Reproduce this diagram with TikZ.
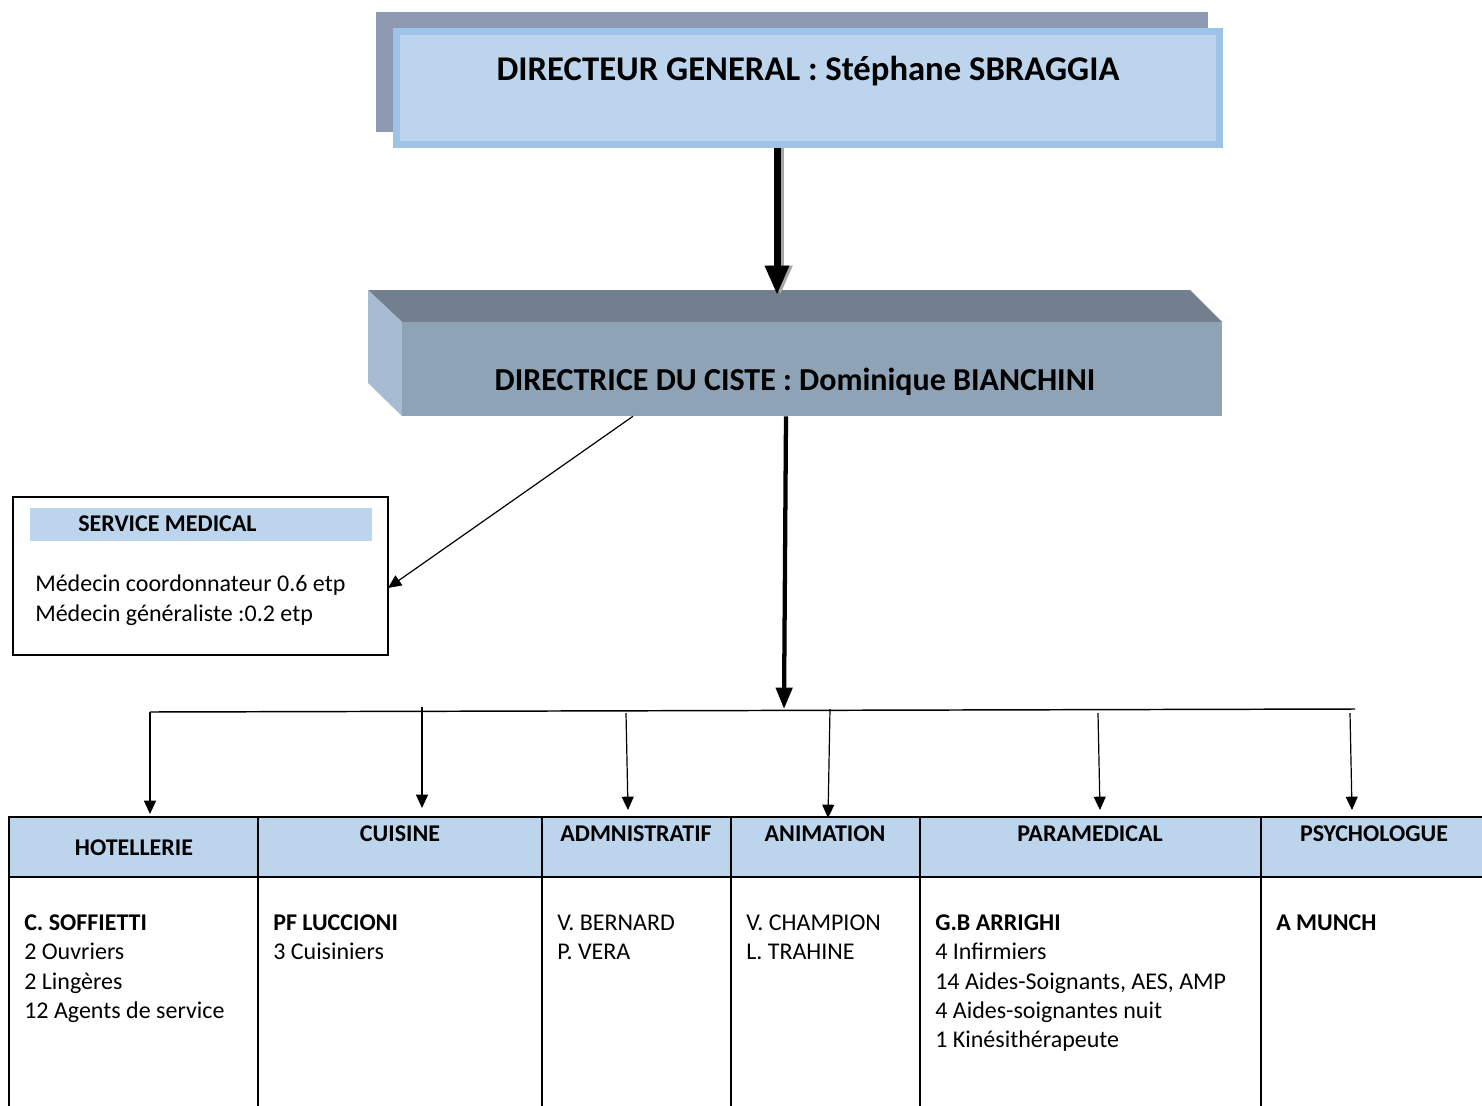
\documentclass[tikz,border=0pt]{standalone}
\usepackage{fontspec}
\setmainfont{Carlito}
\usetikzlibrary{arrows.meta,fit}
\definecolor{lblue}{HTML}{BDD5EC}
\definecolor{bblue}{HTML}{9DC3E6}
\definecolor{shgray}{HTML}{8E9AB1}
\definecolor{topface}{HTML}{717F8F}
\definecolor{frontface}{HTML}{8EA3B5}
\definecolor{leftface}{HTML}{A7BBD3}
\begin{document}
\begin{tikzpicture}[x=0.75pt,y=-0.75pt,
  title/.style={font=\fontsize{26}{31}\selectfont\bfseries, inner sep=0, anchor=base},
  body/.style={font=\fontsize{18}{22}\selectfont, align=left, anchor=base west, inner sep=0},
  hdrtxt/.style={font=\fontsize{18}{22}\selectfont\bfseries, anchor=base, inner sep=0},
  cell/.style={draw=black, line width=1.5pt, inner sep=0},
  hcell/.style={cell, fill=lblue},
  thinarrow/.style={line width=0.9pt, -{Triangle[length=10pt,width=9pt]}},
]
\useasboundingbox (0,0) rectangle (1482,1106);
\clip (0,0) rectangle (1482,1106);

% --- Directeur general
\fill[shgray] (376,12) rectangle (1208,132);
\node[fit={(396.5,31.5)(1219.5,144.5)}, inner sep=0, draw=bblue, line width=5.25pt, fill=lblue] (dg) {};
\node[title] (dgt) at (808,80) {DIRECTEUR GENERAL : Stéphane SBRAGGIA};

% --- Directrice (3D box)
\fill[topface] (368,290) -- (1190,290) -- (1222,322) -- (402,322) -- cycle;
\fill[leftface] (368,290) -- (402,322) -- (402,416) -- (368,383) -- cycle;
\node[fit={(402,322)(1222,416)}, inner sep=0, fill=frontface] (dc) {};
\node[title, font=\fontsize{24}{29}\selectfont\bfseries] (dct) at (795,390) {DIRECTRICE DU CISTE : Dominique BIANCHINI};

% arrow DG -> DC
\coordinate (dcin) at (777,295);
\draw[line width=5.25pt, black!35, -{Triangle[length=22pt,width=17pt]}] ([xshift=2.5pt]dg.south -| dcin) -- ([xshift=2.5pt]dcin);
\draw[line width=5.25pt, -{Triangle[length=22pt,width=17pt]}] (dg.south -| dcin) -- (dcin);

% --- Service medical
\node[fit={(13,497)(388,655)}, inner sep=0, draw, line width=1.1pt] (sm) {};
\node[fit={(30,508)(372,541)}, inner sep=0, fill=lblue] (smh) {};
\node[hdrtxt, anchor=base west] (smt) at (78,531) {SERVICE MEDICAL};
\node[body] (smb) at (35,621) {Médecin coordonnateur 0.6 etp\\Médecin généraliste :0.2 etp};

\coordinate (smsrc) at (633,418);
\coordinate (smin) at (388,588);
\draw[thinarrow] (dc.south -| smsrc) -- (smin);

% --- main down arrow
\coordinate (dcout) at (786,418);
\coordinate (busin) at (784,709);
\draw[line width=3.2pt, -{Triangle[length=16pt,width=12pt]}] (dc.south -| dcout) -- (busin);

% --- bus
\coordinate (busl) at (150,712);
\coordinate (busr) at (1355,709);
\draw[line width=1.1pt] (busl) -- (busr);

% --- table
\foreach \i/\l/\r in {1/9/258,2/258/542,3/542/731,4/731/920,5/920/1261,6/1261/1495}{
  \node[hcell, fit={(\l,817)(\r,877)}] (h\i) {};
  \node[cell, fit={(\l,877)(\r,1125)}] (c\i) {};
}

\node[hdrtxt] (h1t) at (134,855) {HOTELLERIE};
\node[hdrtxt] (h2t) at (400,841) {CUISINE};
\node[hdrtxt] (h3t) at (636,841) {ADMNISTRATIF};
\node[hdrtxt] (h4t) at (825,841) {ANIMATION};
\node[hdrtxt] (h5t) at (1090,841) {PARAMEDICAL};
\node[hdrtxt] (h6t) at (1374,841) {PSYCHOLOGUE};

% base anchor = last line baseline; first baseline at 930.5, step 29.33px
\node[body] (c1t) at (24,1018.5) {\textbf{C. SOFFIETTI}\\2 Ouvriers\\2 Lingères\\12 Agents de service};
\node[body] (c2t) at (273,959.8) {\textbf{PF LUCCIONI}\\3 Cuisiniers};
\node[body] (c3t) at (557,959.8) {V. BERNARD\\P. VERA};
\node[body] (c4t) at (746,959.8) {V. CHAMPION\\L. TRAHINE};
\node[body] (c5t) at (935,1047.8) {\textbf{G.B ARRIGHI}\\4 Infirmiers\\14 Aides-Soignants, AES, AMP\\4 Aides-soignantes nuit\\1 Kinésithérapeute};
\node[body] (c6t) at (1276,930.5) {\textbf{A MUNCH}};

% --- drop arrows
\coordinate (b1) at (150,712);  \coordinate (t1) at (150,814);
\coordinate (b2) at (422,707);  \coordinate (t2) at (422,808);
\coordinate (b3) at (626,713);  \coordinate (t3) at (628,810);
\coordinate (b4) at (830,709);  \coordinate (t4) at (828,818);
\coordinate (b5) at (1098,713); \coordinate (t5) at (1100,810);
\coordinate (b6) at (1350,713); \coordinate (t6) at (1352,810);
\foreach \i in {1,...,6}{ \draw[thinarrow] (b\i) -- (t\i); }
\end{tikzpicture}
\end{document}
